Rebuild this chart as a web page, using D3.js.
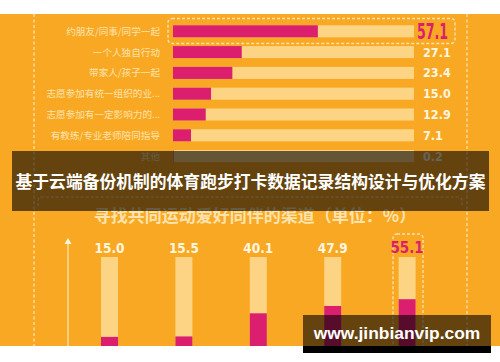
<!DOCTYPE html>
<html><head><meta charset="utf-8">
<script src="https://cdn.jsdelivr.net/npm/d3@7/dist/d3.min.js"></script>
<style>html,body{margin:0;padding:0;background:#fff;}svg{display:block;}</style>
</head><body>
<script>
// ---- data ----
const topCategories = ["约朋友/同事/同学一起","一个人独自行动","带家人/孩子一起","志愿参加有统一组织的业...","志愿参加有一定影响力的...","有教练/专业老师陪同指导","其他"];
const topValues = [57.1, 27.1, 23.4, 15.0, 12.9, 7.1, 0.2];
const topLabels = ["57.1","27.1","23.4","15.0","12.9","7.1","0.2"];
const bottomCategories = ["渠道一","渠道二","渠道三","渠道四","渠道五"];
const bottomValues = [15.0, 15.5, 40.1, 47.9, 55.1];
const bottomLabels = ["15.0","15.5","40.1","47.9","55.1"];
const bottomTitle = "寻找共同运动爱好同伴的渠道（单位：%）";
const bannerText = "基于云端备份机制的体育跑步打卡数据记录结构设计与优化方案";
const watermark = "www.jinbianvip.com";

const W = 500, H = 362;
const ORANGE = "#F9A823", PINK = "#DB1F6E", TRACK = "#FDD484", CREAM = "#FDE3AE";
const numFont = "'Liberation Sans Narrow','DejaVu Sans Condensed',sans-serif";
const cjk = "'Noto Sans CJK SC','Noto Sans',sans-serif";

const svg = d3.select("body").append("svg").attr("width", W).attr("height", H);
svg.append("rect").attr("width", W).attr("height", H).attr("fill", "#fff");
svg.append("rect").attr("x", 0).attr("y", 14).attr("width", W).attr("height", 332).attr("fill", ORANGE);

// dashed vertical frame lines
[34, 467].forEach(x => svg.append("line").attr("x1", x).attr("x2", x).attr("y1", 14).attr("y2", 346)
  .attr("stroke", CREAM).attr("stroke-width", 1.3).attr("stroke-dasharray", "3,2.5"));

// ---- top chart ----
const x = d3.scaleLinear().domain([0, 95]).range([173, 414]);
const y = d3.scaleBand().domain(topCategories).range([20.9, 166.5]).paddingInner(0.42).paddingOuter(0.21);

// highlight dashed box
svg.append("rect").attr("x", 168).attr("y", 18.5).attr("width", 287).attr("height", 25).attr("rx", 4)
  .attr("fill", "none").attr("stroke", CREAM).attr("stroke-width", 1.4).attr("stroke-dasharray", "3,2");

const rows = svg.append("g").selectAll("g").data(topCategories).join("g");
rows.append("rect").attr("x", x(0)).attr("y", d => y(d)).attr("width", x(95) - x(0)).attr("height", y.bandwidth()).attr("fill", TRACK);
rows.append("rect").attr("x", x(0)).attr("y", d => y(d)).attr("width", (d, i) => x(topValues[i]) - x(0)).attr("height", y.bandwidth()).attr("fill", PINK);
rows.append("text").attr("x", 160).attr("y", d => y(d) + y.bandwidth() / 2).attr("dy", "0.36em")
  .attr("text-anchor", "end").attr("font-family", cjk).attr("font-size", 9.6).attr("fill", CREAM).text(d => d);
const vals = rows.append("text").attr("x", (d, i) => i === 0 ? 417 : 423).attr("y", d => y(d) + y.bandwidth() / 2).attr("dy", "0.36em")
  .attr("font-family", numFont).attr("font-weight", "bold")
  .attr("font-size", (d, i) => i === 0 ? 22 : 12.5)
  .attr("fill", (d, i) => i === 0 ? PINK : "#FFF6E0")
  .text((d, i) => topLabels[i]);
vals.filter((d, i) => i === 0).attr("textLength", 31).attr("lengthAdjust", "spacingAndGlyphs");

// faint dashed box top edge under banner
svg.append("path").attr("d", "M38,206 L38,201 Q38,197 42,197 L458,197 Q462,197 462,201 L462,206")
  .attr("fill", "none").attr("stroke", CREAM).attr("stroke-width", 1.2).attr("stroke-dasharray", "3,2");

// ---- bottom chart ----
svg.append("text").attr("x", 255).attr("y", 216).attr("dy", "0.36em").attr("text-anchor", "middle")
  .attr("font-family", cjk).attr("font-weight", "bold").attr("font-size", 17).attr("fill", CREAM).text(bottomTitle);

const bx = d3.scalePoint().domain(bottomCategories).range([72.3, 444.3]).padding(0.5);
const by = d3.scaleLinear().domain([0, 100]).range([351, 257]);
const bw = 17;

// arrow axis
svg.append("line").attr("x1", 68).attr("x2", 68).attr("y1", 242).attr("y2", 346).attr("stroke", CREAM).attr("stroke-width", 1.3);
svg.append("path").attr("d", "M68,238 L64.5,244 L71.5,244 Z").attr("fill", "#FFF6E0");

// highlight box for last bar
svg.append("rect").attr("x", 393).attr("y", 234).attr("width", 30).attr("height", 130).attr("rx", 4)
  .attr("fill", "none").attr("stroke", CREAM).attr("stroke-width", 1.3).attr("stroke-dasharray", "3,2");

const cols = svg.append("g").selectAll("g").data(bottomCategories).join("g");
cols.append("rect").attr("x", d => bx(d) - bw / 2).attr("y", by(100)).attr("width", bw).attr("height", by(0) - by(100)).attr("fill", TRACK);
cols.append("rect").attr("x", d => bx(d) - bw / 2).attr("y", (d, i) => by(bottomValues[i])).attr("width", bw)
  .attr("height", (d, i) => by(0) - by(bottomValues[i])).attr("fill", PINK);
cols.append("text").attr("x", d => bx(d)).attr("y", 248).attr("dy", "0.36em").attr("text-anchor", "middle")
  .attr("font-family", numFont).attr("font-weight", "bold")
  .attr("font-size", (d, i) => i === 4 ? 15 : 13.5)
  .attr("fill", (d, i) => i === 4 ? PINK : "#FFF6E0").text((d, i) => bottomLabels[i]);

// bottom white strip
svg.append("rect").attr("x", 0).attr("y", 346).attr("width", W).attr("height", 16).attr("fill", "#fff");

// ---- overlays ----
svg.append("rect").attr("x", 12).attr("y", 151).attr("width", 477).attr("height", 60).attr("fill", "rgba(0,0,0,0.6)");
svg.append("text").attr("x", 250.5).attr("y", 182).attr("dy", "0.36em").attr("text-anchor", "middle")
  .attr("font-family", cjk).attr("font-weight", "bold").attr("font-size", 16.8).attr("fill", "#fff").text(bannerText);

svg.append("rect").attr("x", 303).attr("y", 346).attr("width", 188).attr("height", 7).attr("fill", "#000");
svg.append("rect").attr("x", 303).attr("y", 315).attr("width", 188).attr("height", 38).attr("fill", "rgba(0,0,0,0.6)");
svg.append("text").attr("x", 397).attr("y", 333).attr("dy", "0.36em").attr("text-anchor", "middle")
  .attr("font-family", "'Liberation Sans',Arial,sans-serif").attr("font-weight", "bold").attr("font-size", 17.4)
  .attr("fill", "#fff").text(watermark);
</script>
</body></html>
